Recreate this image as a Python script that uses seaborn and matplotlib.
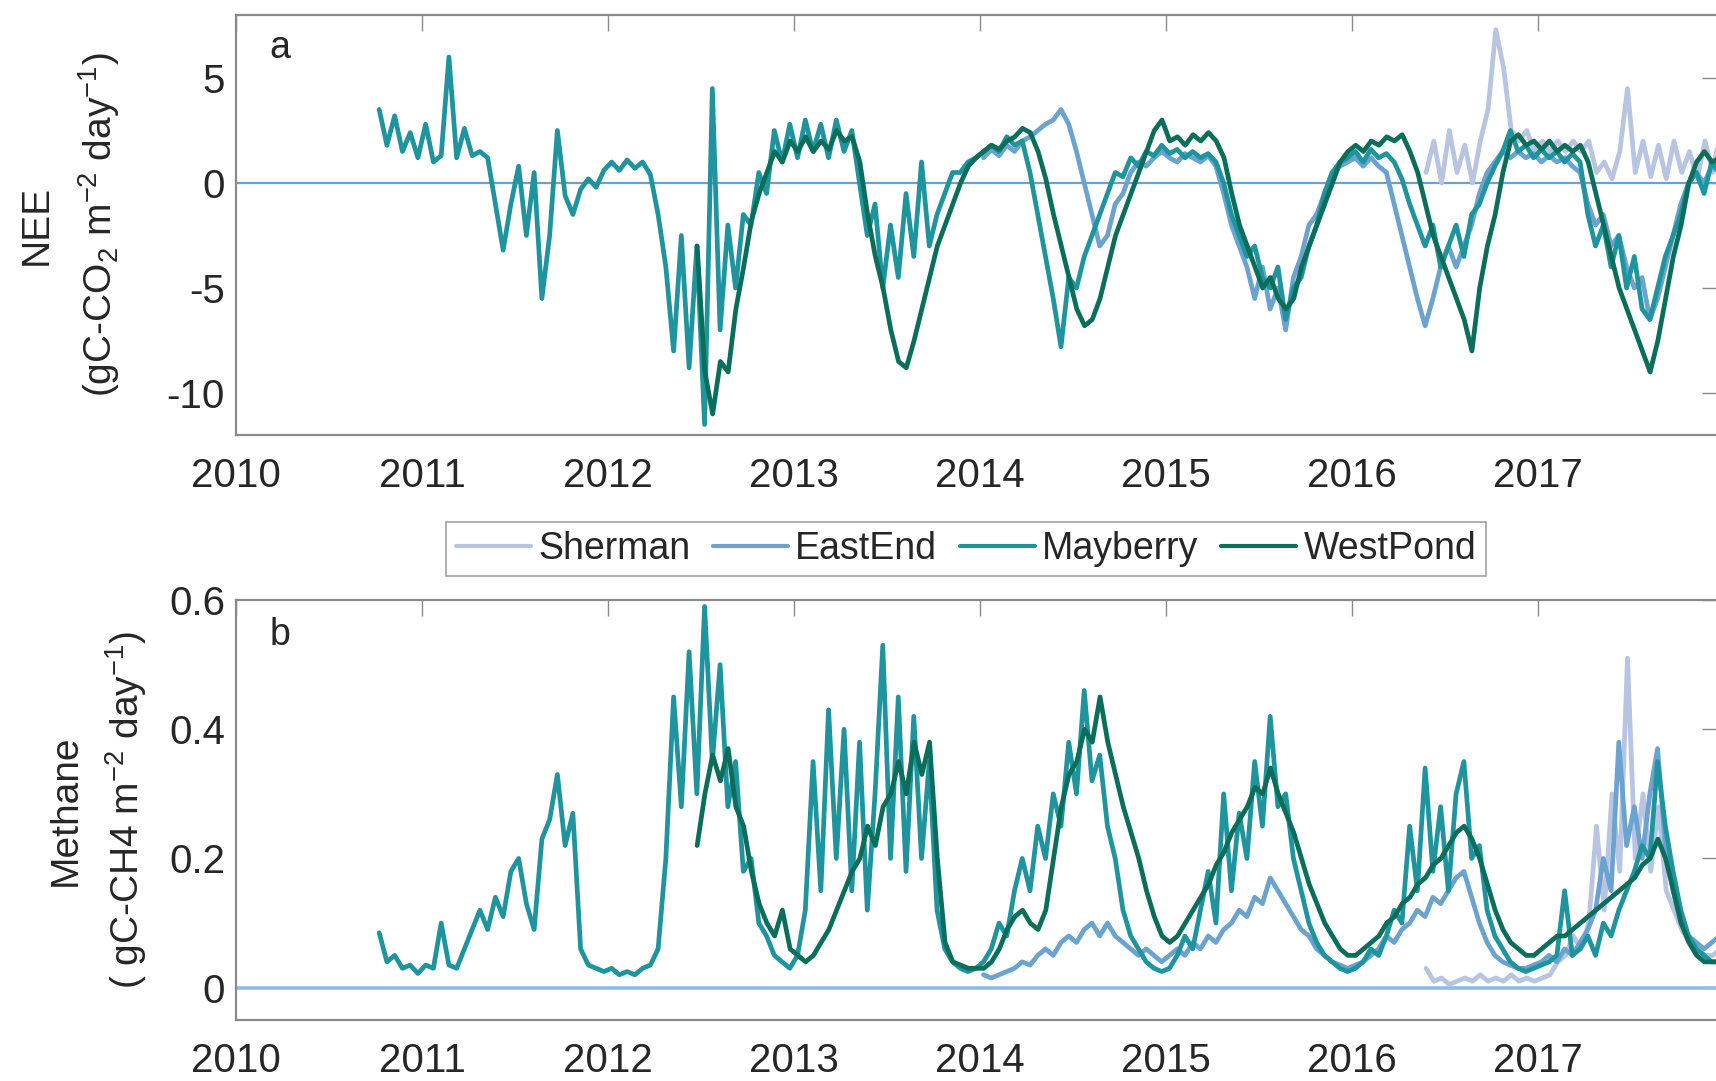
import numpy as np
import pandas as pd
import matplotlib
matplotlib.use("Agg")
import matplotlib.pyplot as plt
from matplotlib.lines import Line2D
import seaborn as sns

# ---------------- data (half-monthly samples) ----------------
STEP = 1.0 / 24.0
sites = ["Sherman", "EastEnd", "Mayberry", "WestPond"]
site_colors = ["#b7c4e2", "#6aa2d0", "#1d949e", "#0a6e5a"]
site_start = {"Sherman": 2016.40, "EastEnd": 2014.02, "Mayberry": 2010.77, "WestPond": 2012.48}

nee_sherman = [0.5, 2.0, 0.0, 2.5, 0.5, 1.8, 0.0, 2.0, 3.5, 7.3, 5.5, 2.5, 2.0, 2.5, 1.5, 2.0,
               1.5, 2.0, 1.5, 2.0, 1.5, 2.0, 0.5, 1.0, 0.2, 1.5, 4.5, 0.5, 2.0, 0.3, 1.8, 0.2,
               2.0, 0.5, 1.5, 0.2, 2.0, 0.5, 2.5]
nee_eastend = [1.2, 1.6, 1.3, 1.8, 1.5, 2.0, 2.2, 2.5, 2.8, 3.0, 3.5, 2.8, 1.5, 0.0, -1.5, -3.0,
               -2.5, -1.0, -0.5, 0.5, 1.0, 0.8, 1.2, 1.5, 1.2, 1.0, 1.4, 1.2, 1.0, 1.3, 0.8, -0.5,
               -2.0, -3.0, -4.0, -5.5, -4.0, -6.0, -5.0, -7.0, -4.5, -3.5, -2.0, -1.5, -0.5, 0.5,
               0.8, 1.0, 1.2, 0.8, 1.2, 0.8, 0.5, -1.0, -2.5, -4.0, -5.5, -6.8, -5.5, -4.0, -3.0,
               -4.0, -3.0, -2.0, -0.5, 0.5, 1.0, 1.5, 1.2, 1.5, 1.2, 1.4, 1.0, 1.3, 1.0, 1.2, 0.8,
               0.5, -1.0, -2.0, -1.5, -3.0, -2.5, -4.0, -5.0, -4.5, -6.5, -5.5, -4.0, -2.5, -1.0,
               0.0, 0.5, 0.0, 0.8, 0.5]
nee_mayberry = [3.5, 1.8, 3.2, 1.5, 2.4, 1.2, 2.8, 1.0, 1.3, 6.0, 1.2, 2.6, 1.3, 1.5, 1.2, -1.0,
                -3.2, -1.0, 0.8, -2.5, 0.5, -5.5, -2.5, 2.5, -0.6, -1.5, -0.3, 0.2, -0.2, 0.6,
                1.0, 0.6, 1.1, 0.7, 1.0, 0.4, -1.5, -4.0, -8.0, -2.5, -8.8, -3.0, -11.5, 4.5,
                -7.0, -2.0, -5.0, -1.5, -2.0, 0.5, -0.5, 2.5, 1.0, 2.8, 1.2, 3.0, 1.5, 2.8, 1.2,
                3.0, 1.5, 2.5, 0.0, -2.5, -1.0, -5.0, -2.0, -4.5, -0.5, -3.5, 1.0, -3.0, -1.5,
                -0.5, 0.5, 0.5, 1.0, 1.2, 1.5, 1.8, 1.5, 2.2, 1.8, 2.0, 0.5, -1.5, -3.5, -5.5,
                -7.8, -4.5, -5.0, -3.5, -2.5, -1.5, -0.5, 0.5, 0.3, 1.2, 0.8, 1.5, 1.3, 1.8, 1.4,
                1.6, 1.2, 1.5, 1.2, 1.4, 1.0, 0.0, -1.5, -2.5, -3.5, -3.0, -4.5, -5.0, -4.0, -6.5,
                -5.0, -4.5, -3.0, -2.0, -0.5, 0.5, 1.0, 1.2, 1.5, 1.0, 1.6, 1.2, 1.4, 1.0, 0.2,
                -1.0, -2.0, -3.0, -2.0, -4.0, -3.0, -2.0, -3.5, -1.5, -1.0, 0.0, 0.8, 1.5, 2.5,
                1.5, 1.8, 1.2, 1.6, 1.2, 1.5, 1.0, 1.4, 1.0, -1.5, -3.0, -2.0, -4.0, -2.5, -5.0,
                -3.5, -6.0, -6.5, -5.0, -3.5, -2.5, -1.5, 0.0, 0.5, -0.5, 1.0, 0.5]
nee_westpond = [-3.0, -9.0, -11.0, -8.5, -9.0, -6.0, -4.0, -1.8, -0.5, 0.5, 1.5, 1.0, 2.0, 1.5,
                2.2, 1.5, 2.0, 1.6, 2.5, 2.0, 2.2, 1.0, -1.5, -3.5, -5.0, -7.0, -8.5, -8.8, -7.5,
                -6.0, -4.5, -3.0, -2.0, -1.0, 0.0, 0.8, 1.2, 1.5, 1.8, 1.6, 2.0, 2.2, 2.6, 2.4,
                1.5, 0.2, -1.5, -3.0, -4.5, -6.0, -6.8, -6.5, -5.5, -4.0, -2.5, -1.5, -0.5, 0.5,
                1.5, 2.5, 3.0, 2.0, 2.2, 1.8, 2.3, 2.0, 2.4, 2.0, 1.2, -0.5, -2.0, -3.0, -4.0,
                -5.0, -4.5, -5.5, -6.0, -5.5, -4.0, -3.0, -2.0, -1.0, 0.0, 1.0, 1.5, 1.8, 1.5,
                2.0, 1.8, 2.2, 2.0, 2.3, 1.5, 0.5, -1.0, -2.5, -3.5, -4.5, -5.5, -6.5, -8.0, -5.0,
                -3.0, -1.5, 0.5, 2.0, 2.3, 1.8, 2.0, 1.6, 2.0, 1.5, 1.8, 1.5, 1.8, 1.0, -0.5,
                -2.0, -3.5, -5.0, -6.0, -7.0, -8.0, -9.0, -7.5, -5.5, -3.5, -2.0, 0.0, 1.0, 1.5,
                1.0, 1.2]

ch4_sherman = [0.03, 0.01, 0.015, 0.005, 0.01, 0.015, 0.01, 0.02, 0.01, 0.015, 0.01, 0.02, 0.01,
               0.015, 0.01, 0.015, 0.02, 0.04, 0.05, 0.08, 0.06, 0.10, 0.25, 0.12, 0.30, 0.18,
               0.51, 0.20, 0.30, 0.18, 0.28, 0.15, 0.12, 0.09, 0.07, 0.06, 0.05, 0.05, 0.06]
ch4_eastend = [0.02, 0.015, 0.02, 0.025, 0.03, 0.04, 0.035, 0.05, 0.06, 0.05, 0.07, 0.08, 0.07,
               0.09, 0.10, 0.08, 0.10, 0.08, 0.07, 0.06, 0.05, 0.06, 0.05, 0.04, 0.05, 0.06,
               0.05, 0.07, 0.06, 0.08, 0.07, 0.09, 0.10, 0.12, 0.11, 0.14, 0.13, 0.17, 0.15,
               0.13, 0.11, 0.09, 0.08, 0.06, 0.05, 0.04, 0.035, 0.03, 0.035, 0.04, 0.05, 0.06,
               0.08, 0.07, 0.09, 0.10, 0.12, 0.11, 0.14, 0.13, 0.15, 0.17, 0.18, 0.14, 0.10,
               0.07, 0.05, 0.04, 0.035, 0.03, 0.03, 0.035, 0.04, 0.05, 0.04, 0.06, 0.05, 0.07,
               0.09, 0.12, 0.20, 0.15, 0.38, 0.22, 0.28, 0.20, 0.30, 0.37, 0.22, 0.15, 0.10,
               0.08, 0.07, 0.06, 0.07, 0.08]
ch4_mayberry = [0.085, 0.04, 0.05, 0.03, 0.035, 0.022, 0.035, 0.03, 0.10, 0.035, 0.03, 0.06,
                0.09, 0.12, 0.09, 0.14, 0.11, 0.18, 0.20, 0.13, 0.09, 0.23, 0.26, 0.33, 0.22,
                0.27, 0.06, 0.035, 0.03, 0.025, 0.03, 0.02, 0.025, 0.02, 0.03, 0.035, 0.06,
                0.20, 0.45, 0.28, 0.52, 0.30, 0.59, 0.35, 0.50, 0.28, 0.35, 0.18, 0.20, 0.10,
                0.08, 0.05, 0.04, 0.03, 0.05, 0.12, 0.35, 0.15, 0.43, 0.20, 0.40, 0.15, 0.38,
                0.12, 0.30, 0.53, 0.20, 0.45, 0.18, 0.42, 0.20, 0.35, 0.12, 0.06, 0.04, 0.03,
                0.025, 0.03, 0.04, 0.06, 0.10, 0.08, 0.15, 0.20, 0.15, 0.25, 0.20, 0.30, 0.25,
                0.38, 0.30, 0.46, 0.32, 0.36, 0.25, 0.20, 0.12, 0.08, 0.06, 0.04, 0.03, 0.025,
                0.03, 0.05, 0.08, 0.06, 0.12, 0.18, 0.10, 0.30, 0.15, 0.27, 0.20, 0.35, 0.25,
                0.42, 0.28, 0.30, 0.20, 0.15, 0.10, 0.07, 0.05, 0.04, 0.03, 0.025, 0.03, 0.04,
                0.06, 0.05, 0.08, 0.12, 0.10, 0.25, 0.15, 0.34, 0.18, 0.28, 0.15, 0.30, 0.35,
                0.20, 0.22, 0.12, 0.08, 0.06, 0.04, 0.03, 0.025, 0.03, 0.035, 0.04, 0.05, 0.15,
                0.05, 0.06, 0.08, 0.05, 0.10, 0.08, 0.12, 0.15, 0.18, 0.22, 0.20, 0.35, 0.25,
                0.18, 0.12, 0.08, 0.06, 0.05, 0.04, 0.04]
ch4_westpond = [0.22, 0.30, 0.36, 0.32, 0.37, 0.28, 0.25, 0.18, 0.13, 0.10, 0.08, 0.12, 0.06,
                0.05, 0.04, 0.05, 0.07, 0.09, 0.12, 0.15, 0.18, 0.20, 0.25, 0.22, 0.28, 0.30,
                0.35, 0.30, 0.38, 0.33, 0.38, 0.20, 0.07, 0.04, 0.035, 0.03, 0.03, 0.03, 0.04,
                0.06, 0.09, 0.11, 0.12, 0.10, 0.09, 0.12, 0.20, 0.28, 0.33, 0.35, 0.40, 0.38,
                0.45, 0.38, 0.33, 0.28, 0.24, 0.20, 0.15, 0.11, 0.08, 0.07, 0.08, 0.10, 0.12,
                0.14, 0.16, 0.19, 0.21, 0.24, 0.26, 0.28, 0.31, 0.30, 0.34, 0.30, 0.27, 0.24,
                0.20, 0.16, 0.13, 0.10, 0.08, 0.06, 0.05, 0.05, 0.06, 0.07, 0.08, 0.10, 0.11,
                0.13, 0.14, 0.16, 0.17, 0.19, 0.20, 0.22, 0.24, 0.25, 0.23, 0.20, 0.16, 0.12,
                0.09, 0.07, 0.06, 0.05, 0.05, 0.06, 0.07, 0.08, 0.08, 0.09, 0.10, 0.11, 0.12,
                0.13, 0.14, 0.15, 0.16, 0.17, 0.19, 0.20, 0.23, 0.20, 0.15, 0.10, 0.07, 0.05,
                0.04, 0.04, 0.04]

year_ticks = [2010, 2011, 2012, 2013, 2014, 2015, 2016, 2017]
year_labels = ["2010", "2011", "2012", "2013", "2014", "2015", "2016", "2017"]
nee_ticks = [-10, -5, 0, 5]
nee_labels = ["-10", "-5", "0", "5"]
ch4_ticks = [0, 0.2, 0.4, 0.6]
ch4_labels = ["0", "0.2", "0.4", "0.6"]


def long_frame(series):
    rows = []
    for site, vals in series.items():
        t0 = site_start[site]
        for i, v in enumerate(vals):
            rows.append((site, t0 + i * STEP, v))
    return pd.DataFrame(rows, columns=["site", "year", "value"])


df_nee = long_frame({"Sherman": nee_sherman, "EastEnd": nee_eastend,
                     "Mayberry": nee_mayberry, "WestPond": nee_westpond})
df_ch4 = long_frame({"Sherman": ch4_sherman, "EastEnd": ch4_eastend,
                     "Mayberry": ch4_mayberry, "WestPond": ch4_westpond})

# ---------------- style ----------------
sns.set_theme(style="white")
plt.rcParams["font.family"] = ["Liberation Sans", "DejaVu Sans"]
plt.rcParams["mathtext.default"] = "regular"
plt.rcParams["axes.unicode_minus"] = False

W, H = 1716, 1081
fig = plt.figure(figsize=(W / 100, H / 100), dpi=100)
fig.patch.set_facecolor("white")

left = 236 / W
width = (1718 - 236) / W
ax_a = fig.add_axes([left, 1 - 435 / H, width, 420 / H])
ax_b = fig.add_axes([left, 1 - 1020 / H, width, 420 / H])

palette = dict(zip(sites, site_colors))
FS = 27
TFS = 29
spine_col = "#8a8a8a"
txt_col = "#262626"

for ax, df, zero_col, zero_lw in [(ax_a, df_nee, "#6f9fcb", 1.6), (ax_b, df_ch4, "#8fbde3", 2.6)]:
    ax.axhline(0, color=zero_col, lw=zero_lw, zorder=1)
    sns.lineplot(data=df, x="year", y="value", hue="site", hue_order=sites,
                 palette=palette, estimator=None, sort=False, lw=3.4,
                 legend=False, ax=ax, zorder=2)
    ax.set_xlim(2010, 2017.97)
    ax.set_xticks(year_ticks)
    ax.set_xticklabels(year_labels)
    ax.set_xlabel("")
    ax.set_ylabel("")
    for s in ax.spines.values():
        s.set_color(spine_col)
        s.set_linewidth(1.6)
    ax.tick_params(axis="both", direction="in", length=11.5, width=1.0,
                   color=spine_col, labelcolor=txt_col, labelsize=TFS,
                   top=True, right=True)
    ax.tick_params(axis="x", pad=16)
    ax.tick_params(axis="y", pad=8)
    ax.grid(False)

ax_a.set_ylim(-12, 8)
ax_a.set_yticks(nee_ticks)
ax_a.set_yticklabels(nee_labels)
ax_b.set_ylim(-0.05, 0.6)
ax_b.set_yticks(ch4_ticks)
ax_b.set_yticklabels(ch4_labels)

ax_a.text((280 - 236) / 1482, (435 - 48) / 420, "a", transform=ax_a.transAxes,
          fontsize=FS, color=txt_col, ha="center", va="center")
ax_b.text((280 - 236) / 1482, (1020 - 635) / 420, "b", transform=ax_b.transAxes,
          fontsize=FS, color=txt_col, ha="center", va="center")

fig.text(70 / W, 1 - 225 / H, "NEE\n(gC-CO$_2$ m$^{-2}$ day$^{-1}$)", rotation=90,
         ha="center", va="center", multialignment="center", fontsize=FS + 1,
         color=txt_col, linespacing=1.6)
fig.text(98 / W, 1 - 810 / H, "Methane\n( gC-CH4 m$^{-2}$ day$^{-1}$)", rotation=90,
         ha="center", va="center", multialignment="center", fontsize=FS + 1,
         color=txt_col, linespacing=1.55)

handles = [Line2D([0], [0], color=c, lw=3.0) for c in site_colors]
leg = fig.legend(handles, sites, loc="center", bbox_to_anchor=(966 / W, 1 - 549 / H),
                 ncol=4, fontsize=FS, frameon=True, fancybox=False, handlelength=2.0,
                 handletextpad=0.2, columnspacing=0.6, borderpad=0.25)
leg.get_frame().set_edgecolor("#8a8a8a")
leg.get_frame().set_linewidth(1.2)
for t in leg.get_texts():
    t.set_color(txt_col)

fig.savefig("out.png", dpi=100, facecolor="white")
